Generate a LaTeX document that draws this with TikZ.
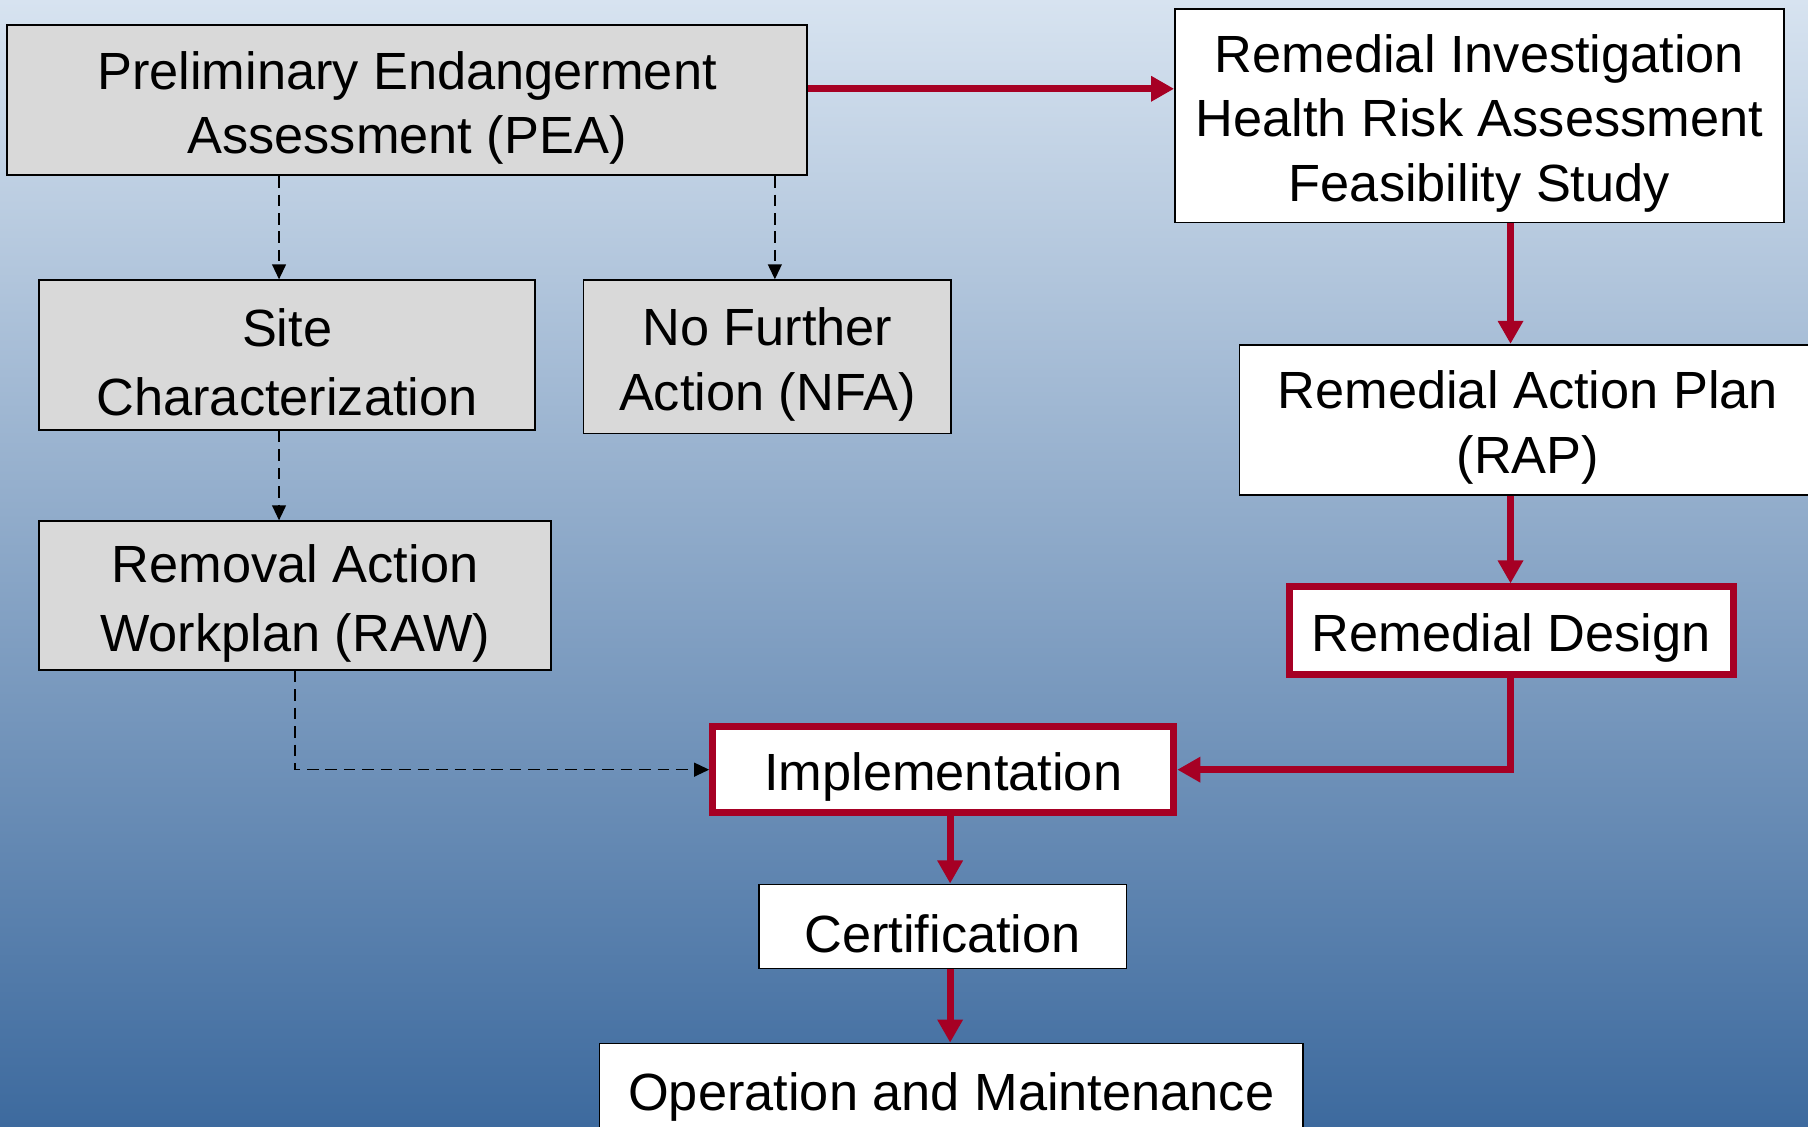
\documentclass[tikz,border=0pt]{standalone}
\usepackage{fontspec}
\setmainfont{Liberation Sans}
\usetikzlibrary{arrows.meta}
\definecolor{dred}{RGB}{166,0,36}
\definecolor{boxgray}{RGB}{217,217,217}
\definecolor{bgtop}{RGB}{215,227,240}
\definecolor{bgmid}{RGB}{152,171,200}
\definecolor{bgbot}{RGB}{61,106,158}
\newcommand{\mytopstrut}{\rule{0pt}{23pt}}
\tikzset{
  box/.style={draw=black, line width=0.75pt, align=center, inner sep=0pt,
    font=\fontsize{22.7}{28}\selectfont},
  graybox/.style={box, fill=boxgray},
  whitebox/.style={box, fill=white},
  redbox/.style={box, fill=white, draw=dred, line width=3pt},
  redarrow/.style={draw=dred, line width=3pt, -{Triangle[length=10pt,width=10.5pt]}},
  dasharrow/.style={draw=black, line width=0.7pt, dash pattern=on 5pt off 3pt,
    -{Triangle[length=6.5pt,width=6pt]}}
}
\begin{document}
\begin{tikzpicture}[x=0.5pt,y=-0.5pt]
\useasboundingbox (0,0) rectangle (1568,977);
\shade[top color=bgtop, middle color=bgmid, bottom color=bgbot] (0,0) rectangle (1568,977);

\node[graybox, minimum width=347pt, minimum height=65pt] (pea) at (353,87)
  {\mytopstrut Preliminary Endangerment\\Assessment (PEA)};
\node[whitebox, minimum width=264pt, minimum height=92.5pt] (ri) at (1283,100.5)
  {\mytopstrut Remedial Investigation\\Health Risk Assessment\\Feasibility Study};
\node[graybox, minimum width=215pt, minimum height=65pt, font=\fontsize{22.7}{30}\selectfont] (sc) at (249,308)
  {\mytopstrut Site\\Characterization};
\node[graybox, minimum width=159.5pt, minimum height=66.5pt] (nfa) at (665.5,309.5)
  {\mytopstrut No Further\\Action (NFA)};
\node[whitebox, minimum width=250pt, minimum height=65pt] (rap) at (1325,364)
  {\mytopstrut Remedial Action Plan\\(RAP)};
\node[graybox, minimum width=222pt, minimum height=64.5pt, font=\fontsize{22.7}{30}\selectfont] (raw) at (256,516.5)
  {\mytopstrut Removal Action\\Workplan (RAW)};
\node[redbox, minimum width=192.5pt, minimum height=38pt] (rd) at (1310.5,547)
  {\mytopstrut Remedial Design};
\node[redbox, minimum width=200pt, minimum height=37.5pt] (impl) at (818,667.5)
  {\mytopstrut Implementation};
\node[whitebox, minimum width=159.5pt, minimum height=36.5pt] (cert) at (817.5,803.5)
  {\mytopstrut Certification};
\node[whitebox, minimum width=305pt, minimum height=40pt] (om) at (825,945)
  {\mytopstrut Operation and Maintenance};

\draw[redarrow] (pea.east |- 0,77) -- (ri.west |- 0,77);
\draw[redarrow] (ri.south -| 1310,0) -- (rap.north -| 1310,0);
\draw[redarrow] (rap.south -| 1310,0) -- (rd.north -| 1310,0);
\draw[redarrow] (rd.south -| 1310,0) |- (impl.east);
\draw[redarrow] (impl.south -| 824,0) -- (cert.north -| 824,0);
\draw[redarrow] (cert.south -| 824,0) -- (om.north -| 824,0);

\draw[dasharrow] (pea.south -| 242,0) -- (sc.north -| 242,0);
\draw[dasharrow] (pea.south -| 672,0) -- (nfa.north -| 672,0);
\draw[dasharrow] (sc.south -| 242,0) -- (raw.north -| 242,0);
\draw[dasharrow] (raw.south -| 256,0) |- (impl.west);
\end{tikzpicture}
\end{document}
